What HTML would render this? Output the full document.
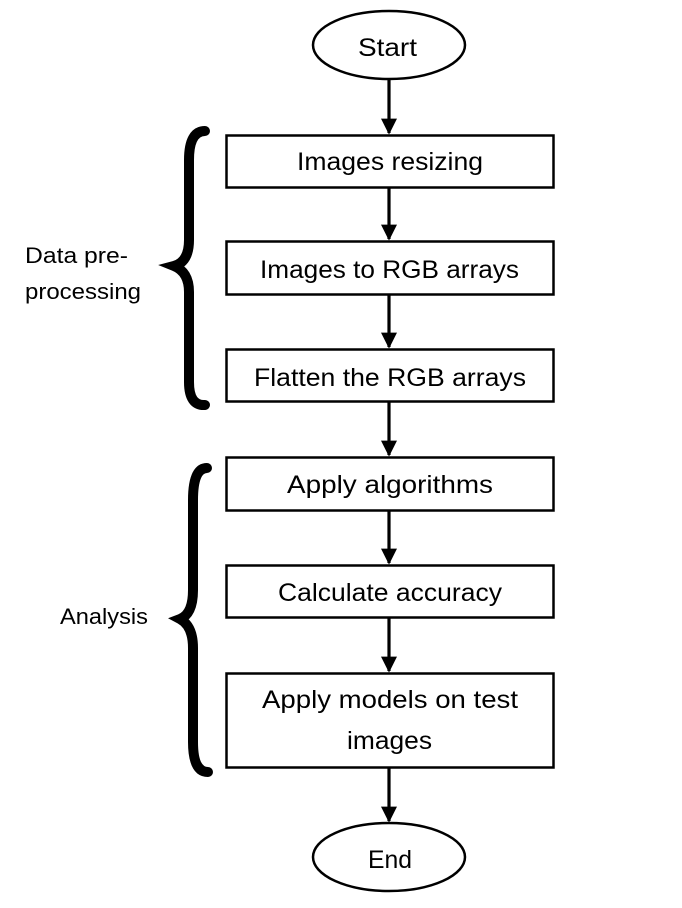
<!DOCTYPE html>
<html><head><meta charset="utf-8"><style>
html,body{margin:0;padding:0;background:#fff;width:682px;height:908px;overflow:hidden}
text{font-family:"Liberation Sans",sans-serif;fill:#000}
</style></head><body>
<svg width="682" height="908" viewBox="0 0 682 908" xmlns="http://www.w3.org/2000/svg">
<defs><marker id="a" markerWidth="5" markerHeight="5" refX="4.5" refY="2.5" orient="auto" markerUnits="strokeWidth"><path d="M0,0 L5,2.5 L0,5z" fill="#000"/></marker></defs>
<g fill="#fff" stroke="#000" stroke-width="2.5">
<ellipse cx="389" cy="45" rx="76" ry="34"/>
<rect x="226.5" y="135.5" width="327" height="52"/>
<rect x="226.5" y="241.5" width="327" height="53"/>
<rect x="226.5" y="349.5" width="327" height="52"/>
<rect x="226.5" y="457.5" width="327" height="53"/>
<rect x="226.5" y="565.5" width="327" height="52"/>
<rect x="226.5" y="673.5" width="327" height="94"/>
<ellipse cx="389" cy="857" rx="76" ry="34"/>
</g>
<g stroke="#000" stroke-width="3.2" marker-end="url(#a)">
<line x1="389" y1="80" x2="389" y2="133"/>
<line x1="389" y1="188" x2="389" y2="239"/>
<line x1="389" y1="295" x2="389" y2="347"/>
<line x1="389" y1="402" x2="389" y2="455"/>
<line x1="389" y1="511" x2="389" y2="563"/>
<line x1="389" y1="618" x2="389" y2="671"/>
<line x1="389" y1="768" x2="389" y2="821"/>
</g>
<g fill="none" stroke="#000" stroke-width="10" stroke-linecap="round">
<path d="M205,131 Q189,131 189,160 L189,240 Q189,262 174,266 Q189,272 189,292 L189,382 Q189,406 205,405"/>
<path d="M207,468 Q193,468 193,500 L193,590 Q193,614 180,619 Q193,626 193,648 L193,742 Q193,772 208,772"/>
</g>
<g font-size="25" lengthAdjust="spacingAndGlyphs">
<text x="358" y="56" textLength="59" lengthAdjust="spacingAndGlyphs">Start</text>
<text x="297" y="170" textLength="186" lengthAdjust="spacingAndGlyphs">Images resizing</text>
<text x="260" y="278" textLength="259" lengthAdjust="spacingAndGlyphs">Images to RGB arrays</text>
<text x="254" y="386" textLength="272" lengthAdjust="spacingAndGlyphs">Flatten the RGB arrays</text>
<text x="287" y="493" textLength="206" lengthAdjust="spacingAndGlyphs">Apply algorithms</text>
<text x="278" y="601" textLength="224" lengthAdjust="spacingAndGlyphs">Calculate accuracy</text>
<text x="262" y="708" textLength="256" lengthAdjust="spacingAndGlyphs">Apply models on test</text>
<text x="347" y="749" textLength="85" lengthAdjust="spacingAndGlyphs">images</text>
<text x="368" y="868" textLength="44" lengthAdjust="spacingAndGlyphs">End</text>
</g>
<g font-size="22">
<text x="25" y="263" textLength="103" lengthAdjust="spacingAndGlyphs">Data pre-</text>
<text x="25" y="299" textLength="116" lengthAdjust="spacingAndGlyphs">processing</text>
<text x="60" y="624" textLength="88" lengthAdjust="spacingAndGlyphs">Analysis</text>
</g>
</svg>
</body></html>
